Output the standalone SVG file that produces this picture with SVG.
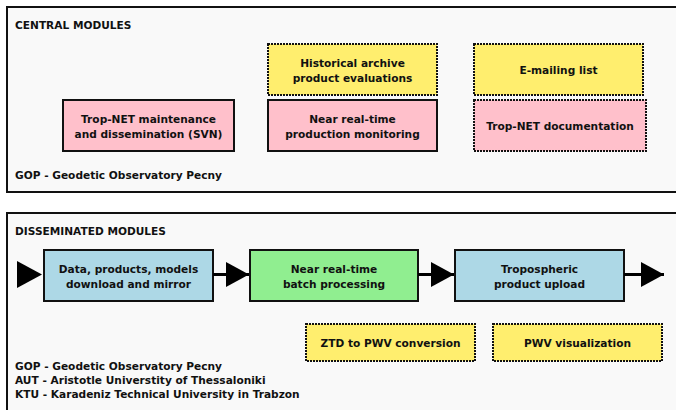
<svg xmlns="http://www.w3.org/2000/svg" width="676" height="410" viewBox="0 0 676 410">
<style>
text{font-family:"DejaVu Sans","Verdana",sans-serif;font-weight:bold;font-size:10.6px;fill:#111}
.c{text-anchor:middle}
.panel{fill:#f9f9f9;stroke:#111;stroke-width:2}
.pink{fill:#ffc0cb}
.yellow{fill:#ffee6e}
.blue{fill:#add8e6}
.green{fill:#90ee90}
.solid{stroke:#111;stroke-width:2}
.dot{stroke:#111;stroke-width:2;stroke-dasharray:2 1}
.conn{stroke:#000;stroke-width:3;fill:none}
</style>
<defs>
<marker id="ah" viewBox="0 0 23 25" refX="23" refY="12.5" markerWidth="23" markerHeight="25" markerUnits="userSpaceOnUse" orient="auto">
<path d="M0,0 L23,12.5 L0,25 Z" fill="#000"/>
</marker>
</defs>
<g id="central">
<rect class="panel" x="7" y="7" width="680" height="185"/>
<text x="15" y="29">CENTRAL MODULES</text>
<text x="15" y="179">GOP - Geodetic Observatory Pecny</text>
</g>
<g id="n-svn">
<rect class="pink solid" x="63" y="100" width="171" height="51"/>
<text class="c" x="148.5" y="123">Trop-NET maintenance</text>
<text class="c" x="148.5" y="138">and dissemination (SVN)</text>
</g>
<g id="n-hist">
<rect class="yellow dot" x="268" y="44" width="169" height="51"/>
<text class="c" x="352.5" y="67">Historical archive</text>
<text class="c" x="352.5" y="82">product evaluations</text>
</g>
<g id="n-nrt">
<rect class="pink solid" x="268" y="100" width="169" height="51"/>
<text class="c" x="352.5" y="123">Near real-time</text>
<text class="c" x="352.5" y="138">production monitoring</text>
</g>
<g id="n-email">
<rect class="yellow dot" x="474" y="44" width="169" height="51"/>
<text class="c" x="558.5" y="74">E-mailing list</text>
</g>
<g id="n-doc">
<rect class="pink dot" x="474" y="100" width="172" height="51"/>
<text class="c" x="560" y="130">Trop-NET documentation</text>
</g>
<g id="dissem">
<rect class="panel" x="7" y="213" width="680" height="210"/>
<text x="15" y="235">DISSEMINATED MODULES</text>
<text x="15" y="370">GOP - Geodetic Observatory Pecny</text>
<text x="15" y="384">AUT - Aristotle Universtity of Thessaloniki</text>
<text x="15" y="398">KTU - Karadeniz Technical University in Trabzon</text>
</g>
<g id="n-data">
<rect class="blue solid" x="44" y="250" width="169" height="51"/>
<text class="c" x="128.5" y="273">Data, products, models</text>
<text class="c" x="128.5" y="288">download and mirror</text>
</g>
<g id="n-batch">
<rect class="green solid" x="250" y="250" width="168" height="51"/>
<text class="c" x="334" y="273">Near real-time</text>
<text class="c" x="334" y="288">batch processing</text>
</g>
<g id="n-upload">
<rect class="blue solid" x="455" y="250" width="169" height="51"/>
<text class="c" x="539.5" y="273">Tropospheric</text>
<text class="c" x="539.5" y="288">product upload</text>
</g>
<g id="n-ztd">
<rect class="yellow dot" x="306" y="324" width="169" height="37"/>
<text class="c" x="390.5" y="347">ZTD to PWV conversion</text>
</g>
<g id="n-pwv">
<rect class="yellow dot" x="493" y="324" width="169" height="37"/>
<text class="c" x="577.5" y="347">PWV visualization</text>
</g>
<g id="connectors">
<path d="M17,261 L42,274.5 L17,288 Z" fill="#000"/>
<path class="conn" d="M213,274.5 L249,274.5" marker-end="url(#ah)"/>
<path class="conn" d="M418,274.5 L454,274.5" marker-end="url(#ah)"/>
<path class="conn" d="M624,274.5 L664,274.5" marker-end="url(#ah)"/>
</g>
</svg>
